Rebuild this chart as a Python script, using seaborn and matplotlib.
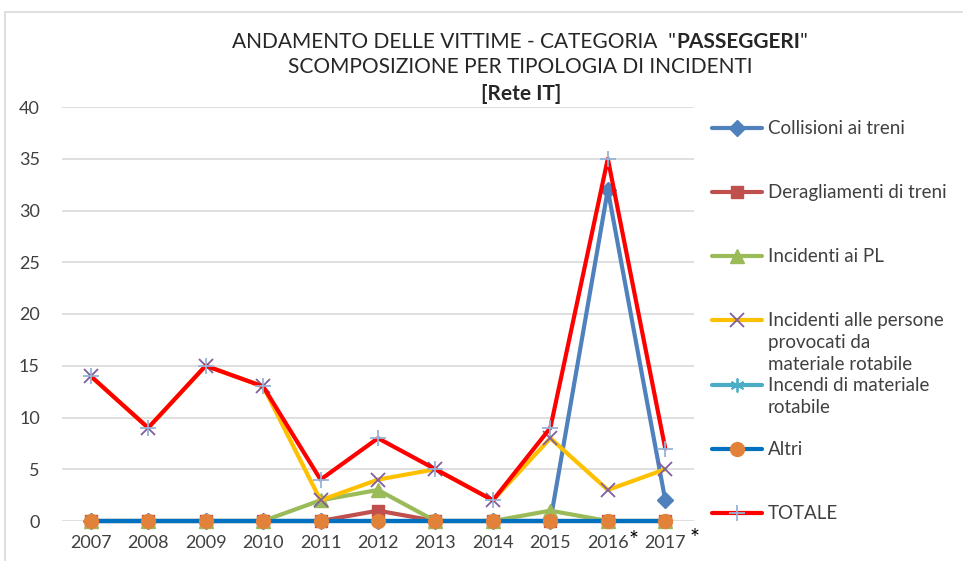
import matplotlib
matplotlib.use("Agg")
import matplotlib.pyplot as plt
import matplotlib.transforms as mtransforms
from matplotlib.lines import Line2D
from matplotlib.patches import Rectangle
import seaborn as sns
import pandas as pd

years = ["2007", "2008", "2009", "2010", "2011", "2012", "2013", "2014", "2015", "2016", "2017"]
collisioni = [0, 0, 0, 0, 0, 0, 0, 0, 0, 32, 2]
deragliamenti = [0, 0, 0, 0, 0, 1, 0, 0, 0, 0, 0]
incidenti_pl = [0, 0, 0, 0, 2, 3, 0, 0, 1, 0, 0]
incidenti_persone = [14, 9, 15, 13, 2, 4, 5, 2, 8, 3, 5]
incendi = [0, 0, 0, 0, 0, 0, 0, 0, 0, 0, 0]
altri = [0, 0, 0, 0, 0, 0, 0, 0, 0, 0, 0]
totale = [14, 9, 15, 13, 4, 8, 5, 2, 9, 35, 7]
yticks = [0, 5, 10, 15, 20, 25, 30, 35, 40]

series_names = [
    "Collisioni ai treni",
    "Deragliamenti di treni",
    "Incidenti ai PL",
    "Incidenti alle persone\nprovocati da\nmateriale rotabile",
    "Incendi di materiale\nrotabile",
    "Altri",
    "TOTALE",
]
series_values = [collisioni, deragliamenti, incidenti_pl, incidenti_persone, incendi, altri, totale]

styles = [
    dict(color="#4F81BD", marker="D", markersize=8, markerfacecolor="#4F81BD", markeredgecolor="#4F81BD", mew=1),
    dict(color="#C0504D", marker="s", markersize=9, markerfacecolor="#C0504D", markeredgecolor="#C0504D", mew=1),
    dict(color="#9BBB59", marker="^", markersize=10, markerfacecolor="#9BBB59", markeredgecolor="#9BBB59", mew=1),
    dict(color="#FFC000", marker="x", markersize=10, markerfacecolor="#7F5FA0", markeredgecolor="#7F5FA0", mew=1.3),
    dict(color="#4BACC6", marker=(6, 2, 0), markersize=10, markerfacecolor="#4BACC6", markeredgecolor="#4BACC6", mew=1.3),
    dict(color="#0070C0", marker="o", markersize=10, markerfacecolor="#E2823A", markeredgecolor="#E2823A", mew=1),
    dict(color="#FF0000", marker="+", markersize=12, markerfacecolor="#95B3D7", markeredgecolor="#95B3D7", mew=1.3),
]

sns.set_theme(style="white")
plt.rcParams["font.family"] = ["Lato", "DejaVu Sans"]

fig = plt.figure(figsize=(9.63, 5.61), dpi=100)
W, H = 963, 561
ax = fig.add_axes([62 / W, 1 - 521 / H, (694 - 62) / W, (521 - 107) / H])

xpos = list(range(len(years)))
for name, vals, st in zip(series_names, series_values, styles):
    df = pd.DataFrame({"x": xpos, "y": vals})
    sns.lineplot(data=df, x="x", y="y", ax=ax, linewidth=3, clip_on=False,
                 legend=False, **st)

ax.set_xlim(-0.5, len(years) - 0.5)
ax.set_ylim(0, 40)
ax.set_yticks(yticks)
ax.set_yticklabels([str(v) for v in yticks])
ax.set_xticks(xpos)
ax.set_xticklabels(years)
ax.set_xlabel("")
ax.set_ylabel("")
for s in ax.spines.values():
    s.set_visible(False)
ax.yaxis.grid(True, color="#D9D9D9", linewidth=1.2)
ax.set_axisbelow(True)
ax.tick_params(axis="y", length=0, pad=16, labelsize=13, labelcolor="#404040")
ax.tick_params(axis="x", length=0, pad=10, labelsize=13, labelcolor="#404040")

# asterisks next to 2016 and 2017
trans = mtransforms.blended_transform_factory(ax.transData, ax.transAxes)
ax.text(9 + 0.45, -0.047, "*", transform=trans, fontsize=17, color="black", ha="center", va="center")
ax.text(10 + 0.51, -0.043, "*", transform=trans, fontsize=17, color="black", ha="center", va="center")

# title
fig.canvas.draw()
renderer = fig.canvas.get_renderer()
TS = 15
part_a = "ANDAMENTO DELLE VITTIME - CATEGORIA  \""
part_b = "PASSEGGERI"
part_c = "\""
ta = fig.text(0, 1 - 42 / H, part_a, fontsize=TS, color="#262626", ha="left", va="center")
tb = fig.text(0, 1 - 42 / H, part_b, fontsize=TS, color="#262626", ha="left", va="center", fontweight="bold")
tc = fig.text(0, 1 - 42 / H, part_c, fontsize=TS, color="#262626", ha="left", va="center")
wa = ta.get_window_extent(renderer).width
wb = tb.get_window_extent(renderer).width
wc = tc.get_window_extent(renderer).width
start = 520 - (wa + wb + wc) / 2
ta.set_x(start / W)
tb.set_x((start + wa) / W)
tc.set_x((start + wa + wb) / W)

fig.text(520 / W, 1 - 67 / H, "SCOMPOSIZIONE PER TIPOLOGIA DI INCIDENTI", fontsize=TS, color="#262626",
         ha="center", va="center")
fig.text(521 / W, 1 - 94 / H, "[Rete IT]", fontsize=TS, color="#262626", ha="center", va="center",
         fontweight="bold")

# legend (Excel-like placement)
legend_y = [128, 192, 256, 320, 385, 449, 513]
for name, st, ly in zip(series_names, styles, legend_y):
    fy = 1 - ly / H
    fig.add_artist(Line2D([712 / W, 762 / W], [fy, fy], color=st["color"], linewidth=3,
                          transform=fig.transFigure))
    fig.add_artist(Line2D([737 / W], [fy], marker=st["marker"], markersize=st["markersize"],
                          markerfacecolor=st["markerfacecolor"], markeredgecolor=st["markeredgecolor"],
                          mew=st["mew"], linestyle="none", transform=fig.transFigure))
    fig.text(768 / W, fy + 8 / H, name, fontsize=13.5, color="#404040", ha="left", va="top",
             linespacing=1.35, transform=fig.transFigure)

# chart frame
fig.add_artist(Rectangle((5 / W, -0.1), 1.2, 1 - 12 / H + 0.1, transform=fig.transFigure,
                         fill=False, edgecolor="#D9D9D9", linewidth=1.2))

fig.savefig("out.png", dpi=100)
